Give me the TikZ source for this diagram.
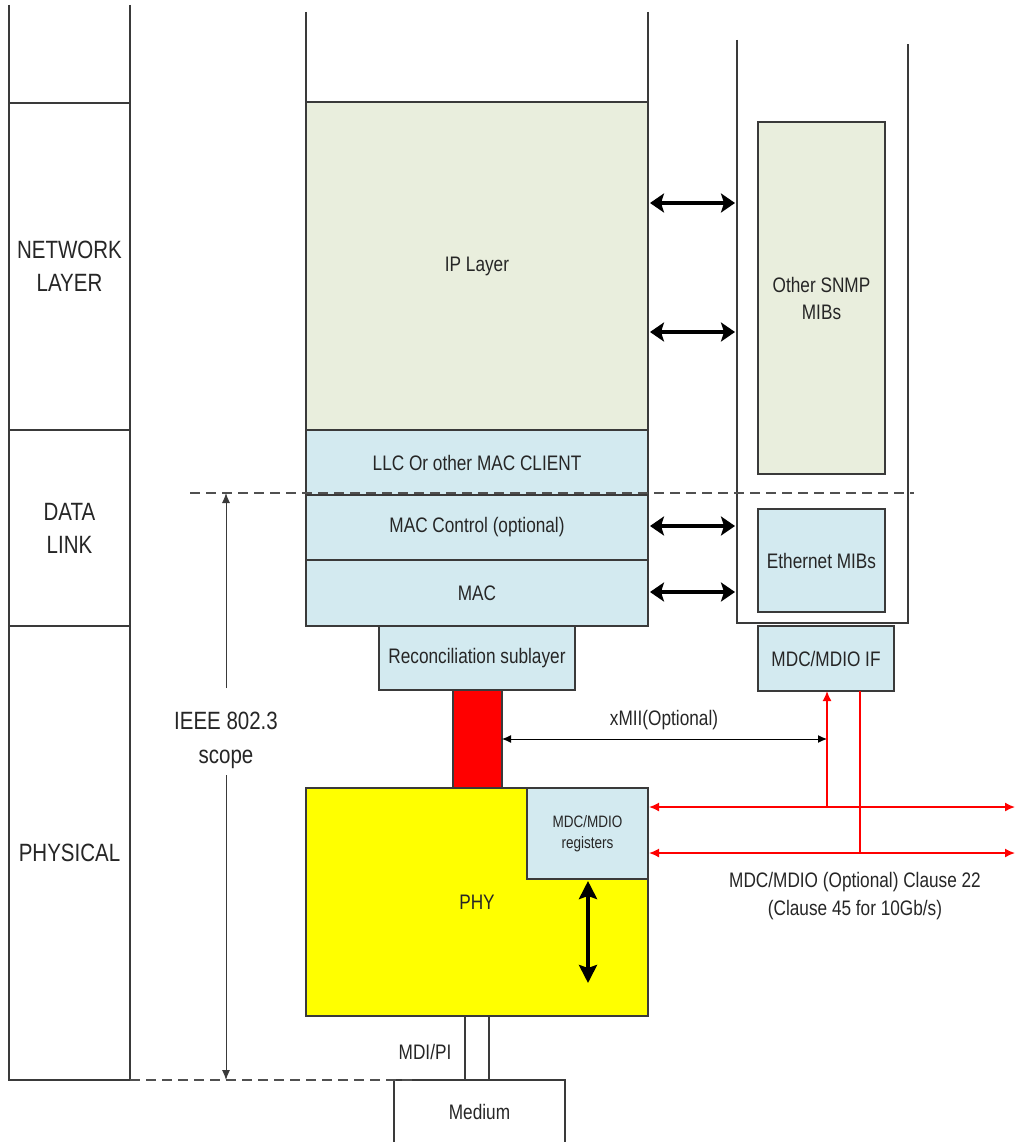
\documentclass[tikz,border=0pt]{standalone}
\usepackage{fontspec}
\setmainfont{Liberation Sans}[FakeStretch=0.82]
\usetikzlibrary{arrows.meta}
\definecolor{beige}{HTML}{E9EEDD}
\definecolor{lblue}{HTML}{D3EAF0}
\definecolor{edge}{HTML}{3A3A3A}
\definecolor{txt}{HTML}{262626}
\definecolor{dashc}{HTML}{505050}
\definecolor{phyyellow}{HTML}{FFFF00}
\definecolor{xred}{HTML}{FF0000}
\tikzset{redtip/.tip={Latex[length=10pt,width=9pt]}}
\begin{document}
\begin{tikzpicture}[x=1pt,y=-1pt,
  every node/.style={text=txt, inner sep=0pt},
  lab/.style={font=\fontsize{21}{27}\selectfont, align=center},
  biglab/.style={font=\fontsize{25}{33}\selectfont, align=center},
  lbox/.style={draw=edge, line width=1.3pt, anchor=north west, inner sep=0pt, outer sep=0pt, lab},
  frame/.style={draw=edge, line width=1.4pt},
  bigarr/.style={line width=3.8pt, {Stealth[length=14pt,width=19pt,inset=3pt]}-{Stealth[length=14pt,width=19pt,inset=3pt]}},
  bigarrv/.style={line width=3.8pt, {Stealth[length=18pt,width=18pt,inset=3pt]}-{Stealth[length=18pt,width=18pt,inset=3pt]}},
  thinarr/.style={line width=1pt, black, {Latex[length=9pt,width=8pt]}-{Latex[length=9pt,width=8pt]}},
  redline/.style={line width=1.6pt, xred},
  scopearr/.style={line width=1pt, edge, -{Latex[length=10pt,width=8pt]}},
  dashline/.style={line width=1.5pt, dashc, dash pattern=on 10pt off 6pt}
]
\clip (0,0) rectangle (1016,1142);
\fill[white] (0,0) rectangle (1016,1142);

% ---- left column ----
\node[lbox, biglab, minimum width=121pt, minimum height=327pt] (net) at (9,103) {NETWORK\\LAYER};
\node[lbox, biglab, minimum width=121pt, minimum height=196pt] (dl) at (9,430) {DATA\\LINK};
\node[lbox, biglab, minimum width=121pt, minimum height=454pt] (phys) at (9,626) {PHYSICAL};
\coordinate (ltl) at (9,5);
\coordinate (ltr) at (130,5);
\draw[frame] (ltl) -- (net.north west);
\draw[frame] (ltr) -- (net.north east);

% ---- main column ----
\node[lbox, fill=beige, minimum width=342pt, minimum height=328pt] (ip) at (306,102) {IP Layer};
\node[lbox, fill=lblue, minimum width=342pt, minimum height=65pt] (llc) at (306,430) {LLC Or other MAC CLIENT};
\node[lbox, fill=lblue, minimum width=342pt, minimum height=65pt] (macc) at (306,495) {MAC Control (optional)};
\node[lbox, fill=lblue, minimum width=342pt, minimum height=66pt] (mac) at (306,560) {MAC};
\node[lbox, fill=lblue, minimum width=196pt, minimum height=64pt] (rs) at (379,626) {Reconciliation sublayer};
\node[lbox, fill=xred, minimum width=49pt, minimum height=98pt] (xmii) at (453,690) {};
\node[lbox, fill=phyyellow, minimum width=342pt, minimum height=228pt] (phy) at (306,788) {PHY};
\node[lbox, fill=lblue, minimum width=121pt, minimum height=91pt, font=\fontsize{16.5}{21}\selectfont] (reg) at (527,788) {MDC/MDIO\\registers};
\node[lbox, fill=white, minimum width=24pt, minimum height=64pt] (mdi) at (465,1016) {};
\node[lbox, fill=white, minimum width=171pt, minimum height=64pt] (medium) at (394,1080) {Medium};
\coordinate (mtl) at (306,12);
\coordinate (mtr) at (648,12);
\draw[frame] (mtl) -- (ip.north west);
\draw[frame] (mtr) -- (ip.north east);
\node[lab] (mdilab) at (425,1052) {MDI/PI};

% ---- right column ----
\coordinate (rtl) at (737,40);
\coordinate (rbl) at (737,623);
\coordinate (rbr) at (908,623);
\coordinate (rtr) at (908,44);
\draw[frame] (rtl) -- (rbl) -- (rbr) -- (rtr);
\node[lbox, fill=beige, minimum width=127pt, minimum height=352pt] (snmp) at (758,122) {Other SNMP\\MIBs};
\node[lbox, fill=lblue, minimum width=127pt, minimum height=103pt] (eth) at (758,509) {Ethernet MIBs};
\node[lbox, fill=lblue, minimum width=136pt, minimum height=65pt] (mdcif) at (758,626) {MDC/MDIO IF};

% ---- dashed lines ----
\coordinate (d1) at (190,493);
\coordinate (d2) at (914,493);
\draw[dashline] (d1) -- (d2);
\coordinate (d3) at (412,1080);
\draw[dashline] (phys.south east) -- (d3);

% ---- thick double arrows ----
\coordinate (a1) at (737,203);
\coordinate (a2) at (737,332);
\coordinate (a3) at (737,526);
\coordinate (a4) at (737,592);
\draw[bigarr, shorten <=2pt, shorten >=2pt] (ip.east |- a1) -- (a1);
\draw[bigarr, shorten <=2pt, shorten >=2pt] (ip.east |- a2) -- (a2);
\draw[bigarr, shorten <=2pt, shorten >=2pt] (macc.east |- a3) -- (a3);
\draw[bigarr, shorten <=2pt, shorten >=2pt] (mac.east |- a4) -- (a4);
\coordinate (p1) at (588,983);
\draw[bigarrv, shorten <=2pt] (reg.south -| p1) -- (p1);

% ---- xMII ----
\coordinate (x1) at (827,739);
\draw[thinarr] (xmii.east |- x1) -- (x1);
\node[lab] (xmiilab) at (664,720) {xMII(Optional)};

% ---- red MDC/MDIO lines ----
\coordinate (r1) at (1015,807);
\coordinate (r2) at (1015,853);
\draw[redline, redtip-redtip, shorten <=1pt] (reg.east |- r1) -- (r1);
\draw[redline, redtip-redtip, shorten <=1pt] (reg.east |- r2) -- (r2);
\coordinate (v1) at (827,807);
\coordinate (v2) at (860,853);
\draw[redline, -redtip] (v1) -- (v1 |- mdcif.south);
\draw[redline] (v2) -- (v2 |- mdcif.south);
\node[lab, font=\fontsize{21}{28}\selectfont] (mdiolab) at (855,896) {MDC/MDIO (Optional) Clause 22\\(Clause 45 for 10Gb/s)};

% ---- IEEE 802.3 scope ----
\node[biglab, font=\fontsize{25}{34}\selectfont] (scope) at (226,740) {IEEE 802.3\\scope};
\coordinate (st) at (226,493);
\coordinate (sb) at (226,1080);
\coordinate (sg1) at (226,688);
\coordinate (sg2) at (226,775);
\draw[scopearr] (sg1) -- (st);
\draw[scopearr] (sg2) -- (sb);
\end{tikzpicture}
\end{document}
